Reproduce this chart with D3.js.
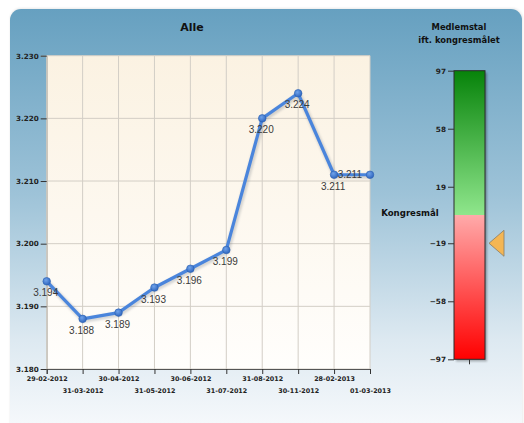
<!DOCTYPE html>
<html>
<head>
<meta charset="utf-8">
<script src="https://cdn.jsdelivr.net/npm/d3@7/dist/d3.min.js"></script>
<style>
  html, body { margin: 0; padding: 0; background: #ffffff; }
  svg { display: block; }
</style>
</head>
<body>
<svg id="chart" width="524" height="423"></svg>
<script>
// Membership count ("Alle") per reporting date
const dates = ["29-02-2012", "31-03-2012", "30-04-2012", "31-05-2012", "30-06-2012",
               "31-07-2012", "31-08-2012", "30-11-2012", "28-02-2013", "01-03-2013"];
const members = [3194, 3188, 3189, 3193, 3196, 3199, 3220, 3224, 3211, 3211];
const yTicks = [3180, 3190, 3200, 3210, 3220, 3230];

// Gauge: membership relative to the congress target
const gaugeTicks = [97, 58, 19, -19, -58, -97];
const gaugeRange = [-97, 97];
const targetMarker = -19;

const svg = d3.select("#chart");
const defs = svg.append("defs");

const daLocale = d3.formatLocale({ decimal: ",", thousands: ".", grouping: [3], currency: ["", " kr"] });
const fmt = daLocale.format(",");

// ---- gradients ----
const panelGrad = defs.append("linearGradient").attr("id", "panelGrad")
  .attr("gradientUnits", "userSpaceOnUse")
  .attr("x1", 0).attr("y1", 9).attr("x2", 0).attr("y2", 423);
panelGrad.append("stop").attr("offset", "0%").attr("stop-color", "#66a0c0");
panelGrad.append("stop").attr("offset", "45%").attr("stop-color", "#9ec3d8");
panelGrad.append("stop").attr("offset", "80%").attr("stop-color", "#dde9f1");
panelGrad.append("stop").attr("offset", "100%").attr("stop-color", "#f5f8fb");

const plotGrad = defs.append("linearGradient").attr("id", "plotGrad")
  .attr("x1", 0).attr("y1", 0).attr("x2", 0).attr("y2", 1);
plotGrad.append("stop").attr("offset", "0%").attr("stop-color", "#fbf2e2");
plotGrad.append("stop").attr("offset", "100%").attr("stop-color", "#fffefc");

const greenGrad = defs.append("linearGradient").attr("id", "greenGrad")
  .attr("x1", 0).attr("y1", 0).attr("x2", 0).attr("y2", 1);
greenGrad.append("stop").attr("offset", "0%").attr("stop-color", "#07830a");
greenGrad.append("stop").attr("offset", "100%").attr("stop-color", "#8fe68c");

const redGrad = defs.append("linearGradient").attr("id", "redGrad")
  .attr("x1", 0).attr("y1", 0).attr("x2", 0).attr("y2", 1);
redGrad.append("stop").attr("offset", "0%").attr("stop-color", "#ffaaaa");
redGrad.append("stop").attr("offset", "100%").attr("stop-color", "#ff0000");

const dotGrad = defs.append("radialGradient").attr("id", "dotGrad")
  .attr("cx", "40%").attr("cy", "35%").attr("r", "65%");
dotGrad.append("stop").attr("offset", "0%").attr("stop-color", "#6fa2ea");
dotGrad.append("stop").attr("offset", "100%").attr("stop-color", "#2f66bf");

const shadow = defs.append("filter").attr("id", "soft")
  .attr("x", "-20%").attr("y", "-20%").attr("width", "140%").attr("height", "140%");
shadow.append("feGaussianBlur").attr("stdDeviation", 1.2);

// ---- outer panel (runs past the bottom edge) ----
svg.append("rect").attr("x", 10).attr("y", 8).attr("width", 513).attr("height", 440)
  .attr("rx", 11).attr("fill", "#000").attr("opacity", 0.08).attr("filter", "url(#soft)");
svg.append("rect").attr("x", 10).attr("y", 9).attr("width", 512).attr("height", 440)
  .attr("rx", 11).attr("fill", "url(#panelGrad)");

// ---- line chart ----
const plot = { left: 46.7, right: 370, top: 55.7, bottom: 369 };

const x = d3.scalePoint().domain(dates).range([plot.left, plot.right]);
const y = d3.scaleLinear().domain([yTicks[0], yTicks[yTicks.length - 1]])
  .range([plot.bottom, plot.top]);

svg.append("rect")
  .attr("x", plot.left).attr("y", plot.top)
  .attr("width", plot.right - plot.left).attr("height", plot.bottom - plot.top)
  .attr("fill", "url(#plotGrad)");

const grid = svg.append("g").attr("stroke", "#d3cec6").attr("stroke-width", 1);
grid.selectAll("line.v").data(dates).join("line").attr("class", "v")
  .attr("x1", d => x(d)).attr("x2", d => x(d))
  .attr("y1", plot.top).attr("y2", plot.bottom);
grid.selectAll("line.h").data(yTicks).join("line").attr("class", "h")
  .attr("x1", plot.left).attr("x2", plot.right)
  .attr("y1", d => y(d)).attr("y2", d => y(d));

// y axis
const yAxis = svg.append("g").attr("transform", `translate(${plot.left},0)`)
  .call(d3.axisLeft(y).tickValues(yTicks).tickFormat(fmt).tickSize(6).tickPadding(2));
yAxis.select(".domain").attr("stroke", "#b9b4ac");
yAxis.selectAll(".tick line").attr("stroke", "#333");
yAxis.selectAll("text").attr("fill", "#222")
  .style("font", "bold 7.2px 'DejaVu Sans', Verdana, sans-serif");

// x axis
const xAxis = svg.append("g").attr("transform", `translate(0,${plot.bottom})`)
  .call(d3.axisBottom(x).tickSize(5).tickPadding(3));
xAxis.select(".domain").attr("stroke", "#555");
xAxis.selectAll(".tick line").attr("stroke", "#333");
xAxis.selectAll("text").attr("fill", "#222")
  .style("font", "bold 6.4px 'DejaVu Sans', Verdana, sans-serif")
  .attr("dy", (d, i) => i % 2 ? "2.55em" : "0.6em");

// series line with a soft shadow
const line = d3.line().x((d, i) => x(dates[i])).y(d => y(d));
svg.append("path").datum(members)
  .attr("d", line).attr("fill", "none")
  .attr("stroke", "#6c7480").attr("stroke-width", 5).attr("opacity", 0.28)
  .attr("transform", "translate(1,1.5)").attr("filter", "url(#soft)");
svg.append("path").datum(members)
  .attr("d", line).attr("fill", "none")
  .attr("stroke", "#4a85dc").attr("stroke-width", 3.2).attr("stroke-linejoin", "round");

svg.selectAll("circle.pt").data(members).join("circle").attr("class", "pt")
  .attr("cx", (d, i) => x(dates[i])).attr("cy", d => y(d)).attr("r", 3.8)
  .attr("fill", "url(#dotGrad)").attr("stroke", "#2a5fb0").attr("stroke-width", 0.6);

// value labels: below each point; the final one sits to its left
const last = members.length - 1;
svg.selectAll("text.val").data(members).join("text").attr("class", "val")
  .attr("x", (d, i) => i === last ? x(dates[i]) - 8 : x(dates[i]) - 1)
  .attr("y", (d, i) => i === last ? y(d) + 3.5 : y(d) + 15)
  .attr("text-anchor", (d, i) => i === last ? "end" : "middle")
  .attr("fill", "#3a3a3a")
  .style("font", "10px 'Liberation Sans Narrow', 'Liberation Sans', Arial, sans-serif")
  .text(d => fmt(d));

// title
svg.append("text").attr("x", 192).attr("y", 30.5).attr("text-anchor", "middle")
  .attr("fill", "#111").style("font", "bold 11px 'DejaVu Sans', Verdana, sans-serif")
  .text("Alle");

// ---- gauge ----
const gauge = { left: 454, right: 485, top: 70.7, bottom: 359.3 };
const g = d3.scaleLinear().domain(gaugeRange).range([gauge.bottom, gauge.top]);

svg.append("text").attr("x", 459).attr("y", 30).attr("text-anchor", "middle")
  .attr("fill", "#111").style("font", "bold 8.4px 'DejaVu Sans', Verdana, sans-serif")
  .text("Medlemstal");
svg.append("text").attr("x", 459).attr("y", 42.5).attr("text-anchor", "middle")
  .attr("fill", "#111").style("font", "bold 8.4px 'DejaVu Sans', Verdana, sans-serif")
  .text("ift. kongresmålet");

svg.append("rect")
  .attr("x", gauge.left + 2).attr("y", gauge.top + 2)
  .attr("width", gauge.right - gauge.left).attr("height", gauge.bottom - gauge.top)
  .attr("fill", "#000").attr("opacity", 0.3).attr("filter", "url(#soft)");
svg.append("rect")
  .attr("x", gauge.left).attr("y", g(gaugeRange[1]))
  .attr("width", gauge.right - gauge.left).attr("height", g(0) - g(gaugeRange[1]))
  .attr("fill", "url(#greenGrad)");
svg.append("rect")
  .attr("x", gauge.left).attr("y", g(0))
  .attr("width", gauge.right - gauge.left).attr("height", g(gaugeRange[0]) - g(0))
  .attr("fill", "url(#redGrad)");
svg.append("rect")
  .attr("x", gauge.left).attr("y", gauge.top)
  .attr("width", gauge.right - gauge.left).attr("height", gauge.bottom - gauge.top)
  .attr("fill", "none").attr("stroke", "#2b2b2b").attr("stroke-width", 1);

const gAxis = svg.append("g").attr("transform", `translate(${gauge.left},0)`)
  .call(d3.axisLeft(g).tickValues(gaugeTicks).tickSize(6).tickPadding(2));
gAxis.select(".domain").remove();
gAxis.selectAll(".tick line").attr("stroke", "#333");
gAxis.selectAll("text").attr("fill", "#222")
  .style("font", "bold 7.3px 'DejaVu Sans', Verdana, sans-serif");

svg.append("line")
  .attr("x1", (gauge.left + gauge.right) / 2).attr("x2", (gauge.left + gauge.right) / 2)
  .attr("y1", gauge.bottom).attr("y2", gauge.bottom + 5)
  .attr("stroke", "#333");

svg.append("text").attr("x", 410).attr("y", 216).attr("text-anchor", "middle")
  .attr("fill", "#111").style("font", "bold 8.6px 'DejaVu Sans', Verdana, sans-serif")
  .text("Kongresmål");

// target marker
const my = g(targetMarker);
svg.append("path")
  .attr("d", `M${gauge.right + 4},${my} L${gauge.right + 19},${my - 13} L${gauge.right + 19},${my + 13} Z`)
  .attr("fill", "#f4b654").attr("stroke", "#8a7c63").attr("stroke-width", 0.8);
</script>
</body>
</html>
